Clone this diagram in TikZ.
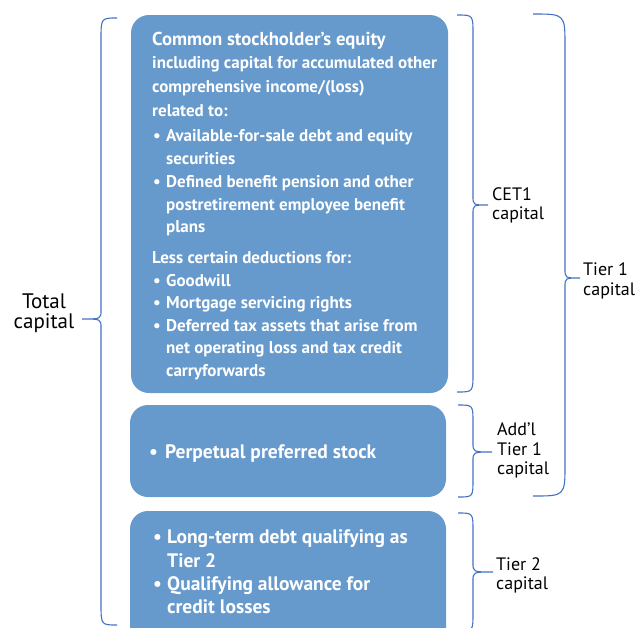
\documentclass[tikz,border=0pt]{standalone}
\usepackage{fontspec}
\setmainfont{PT Sans}
\definecolor{boxblue}{RGB}{102,153,204}
\definecolor{braceblue}{RGB}{68,114,196}
\newcommand{\capbrace}[7]{% #1 end x, #2 vertical x, #3 tip x, #4 top y, #5 tip y, #6 bottom y, #7 end radius
  \draw[brace] (#1,#4) .. controls (#2,#4) .. (#2,#4+#7) -- (#2,#5-9)
    .. controls (#2,#5) .. (#3,#5) .. controls (#2,#5) .. (#2,#5+9)
    -- (#2,#6-#7) .. controls (#2,#6) .. (#1,#6);}
\begin{document}
\begin{tikzpicture}[x=1pt,y=-1pt,
  box/.style={fill=boxblue, rounded corners=18pt},
  txt/.style={anchor=base west, inner sep=0pt, text=white, font=\fontsize{17}{18}\selectfont\bfseries},
  big/.style={txt, font=\fontsize{19.5}{21}\selectfont\bfseries},
  head/.style={txt, font=\fontsize{18.7}{20}\selectfont\bfseries},
  lbl/.style={anchor=base west, inner sep=0pt, align=left, font=\fontsize{18}{19.5}\selectfont},
  brace/.style={draw=braceblue, line width=1.1pt}]
\useasboundingbox (0,0) rectangle (639,627);
\clip (0,0) rectangle (639,627);

% boxes
\fill[box] (131,15) rectangle (448,393);
\fill[box] (130,405) rectangle (446,497);
\fill[box] (130,511) rectangle (446,660);

% box 1 text
\node[head] (a1) at (152,45) {Common stockholder’s equity};
\node[txt] (a2) at (152,68) {including capital for accumulated other};
\node[txt] (a3) at (152,92) {comprehensive income/(loss)};
\node[txt] (a4) at (152,116) {related to:};
\node[txt] (b1) at (153,141) {•};
\node[txt] (a5) at (166,141) {Available-for-sale debt and equity};
\node[txt] (a6) at (166,164) {securities};
\node[txt] (b2) at (153,187) {•};
\node[txt] (a7) at (166,187) {Defined benefit pension and other};
\node[txt] (a8) at (166,210) {postretirement employee benefit};
\node[txt] (a9) at (166,232) {plans};
\node[txt] (a10) at (152,263) {Less certain deductions for:};
\node[txt] (b3) at (153,286) {•};
\node[txt] (a11) at (166,286) {Goodwill};
\node[txt] (b4) at (153,308) {•};
\node[txt] (a12) at (166,308) {Mortgage servicing rights};
\node[txt] (b5) at (153,331) {•};
\node[txt] (a13) at (166,331) {Deferred tax assets that arise from};
\node[txt] (a14) at (166,353) {net operating loss and tax credit};
\node[txt] (a15) at (166,376) {carryforwards};

% box 2 text
\node[big] (b6) at (149,458) {•};
\node[big] (c1) at (165,458) {Perpetual preferred stock};

% box 3 text
\node[big] (b7) at (153,543) {•};
\node[big] (d1) at (167,543) {Long-term debt qualifying as};
\node[big] (d2) at (167,567) {Tier 2};
\node[big] (b8) at (153,590) {•};
\node[big] (d3) at (167,590) {Qualifying allowance for};
\node[big] (d4) at (167,613) {credit losses};

% braces
\capbrace{117}{101}{82}{18}{319}{625}{22}
\capbrace{457}{473}{488}{15}{205}{392}{19}
\capbrace{533}{565}{580}{14}{278}{496}{32}
\capbrace{458}{473}{492}{405}{452}{497}{18}
\capbrace{458}{473}{493}{513}{572}{631}{18}

% labels
\node[lbl] (e1) at (492,200) {CET1};
\node[lbl] (e2) at (492,219) {capital};
\node[lbl] (f1) at (583,275) {Tier 1};
\node[lbl] (f2) at (583,295) {capital};
\node[lbl] (g1) at (497,435) {Add’l};
\node[lbl] (g2) at (497,455) {Tier 1};
\node[lbl] (g3) at (497,474) {capital};
\node[lbl] (h1) at (496,570) {Tier 2};
\node[lbl] (h2) at (496,589) {capital};
\node[anchor=base, inner sep=0pt, font=\fontsize{21}{22}\selectfont] (t1) at (44,308) {Total};
\node[anchor=base, inner sep=0pt, font=\fontsize{21}{22}\selectfont] (t2) at (44,328) {capital};
\end{tikzpicture}
\end{document}
